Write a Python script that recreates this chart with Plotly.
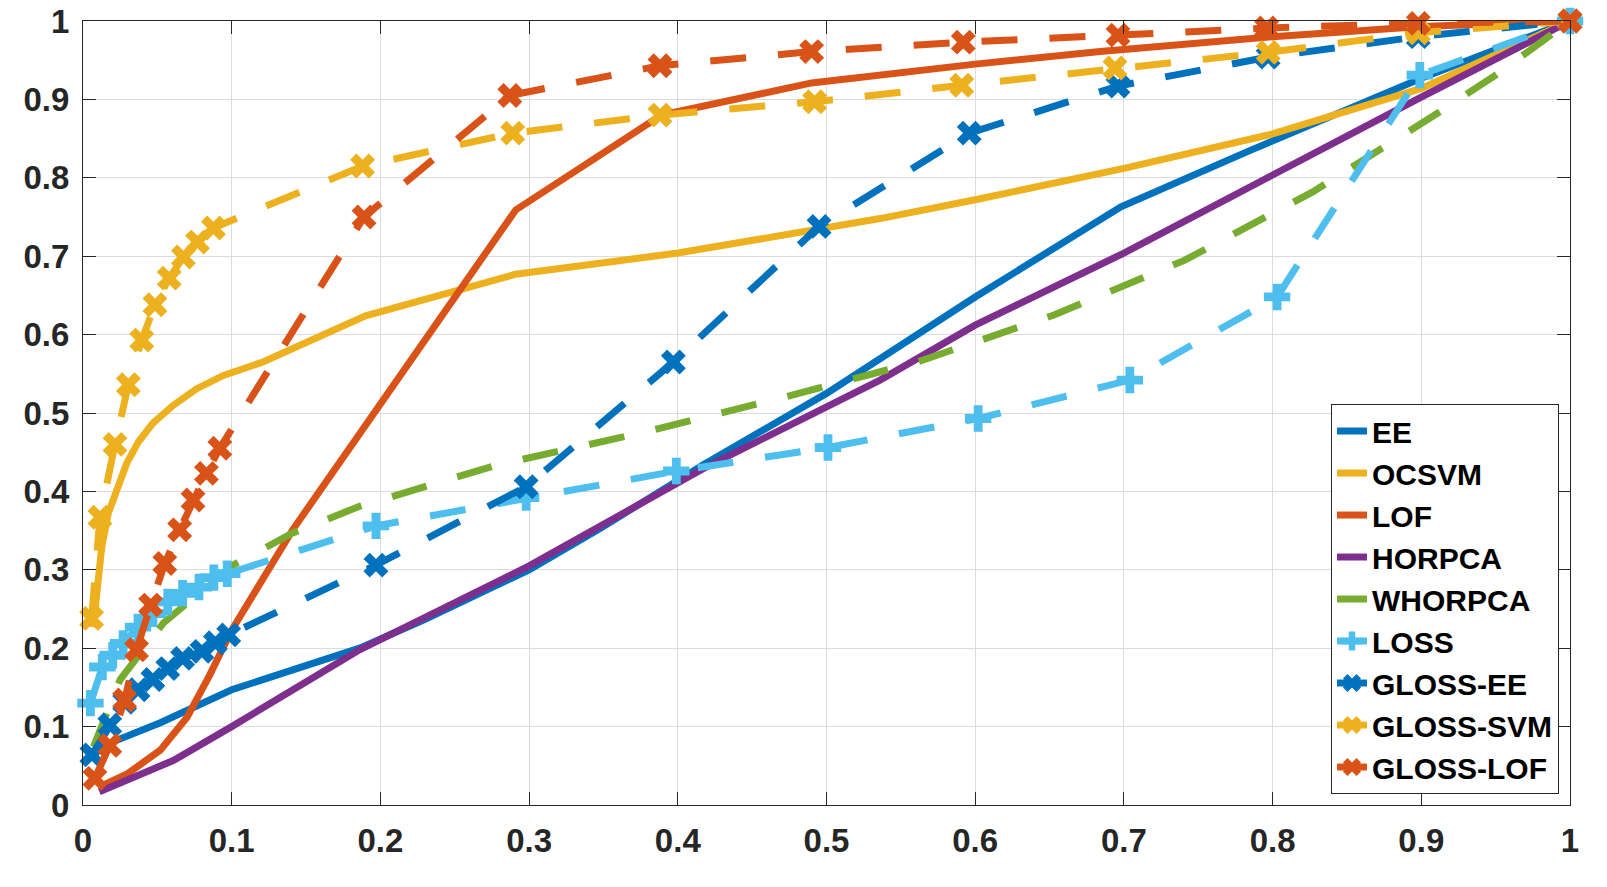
import plotly.graph_objects as go

# ROC curves (false positive rate vs. true positive rate)
ee_x = [0.001, 0.018, 0.052, 0.1, 0.186, 0.229, 0.3, 0.348, 0.418, 0.5, 0.6, 0.698, 0.785, 0.9, 1.0]
ee_y = [0.057, 0.079, 0.105, 0.147, 0.2, 0.236, 0.3, 0.353, 0.435, 0.525, 0.648, 0.763, 0.835, 0.927, 1.0]

ocsvm_x = [0.0069, 0.0092, 0.0126, 0.017, 0.0227, 0.0294, 0.0372, 0.047, 0.0608, 0.0765, 0.0944,
           0.121, 0.19, 0.291, 0.4, 0.536, 0.6, 0.7, 0.8, 0.9, 1.0]
ocsvm_y = [0.227, 0.27, 0.329, 0.372, 0.402, 0.436, 0.463, 0.487, 0.51, 0.531, 0.548,
           0.565, 0.624, 0.677, 0.704, 0.748, 0.772, 0.812, 0.856, 0.914, 1.0]

lof_x = [0.011, 0.03, 0.052, 0.07, 0.085, 0.1, 0.141, 0.291, 0.389, 0.49, 0.6, 0.684, 0.8, 0.9, 1.0]
lof_y = [0.023, 0.04, 0.07, 0.112, 0.165, 0.223, 0.351, 0.759, 0.88, 0.921, 0.945, 0.961, 0.98, 0.993, 1.0]

horpca_x = [0.011, 0.061, 0.1, 0.186, 0.3, 0.418, 0.536, 0.6, 0.7, 0.8, 0.9, 1.0]
horpca_y = [0.017, 0.057, 0.1, 0.198, 0.305, 0.43, 0.542, 0.612, 0.704, 0.804, 0.903, 1.0]

whorpca_x = [0.007, 0.025, 0.054, 0.1, 0.141, 0.186, 0.279, 0.374, 0.467, 0.561, 0.653, 0.741, 0.827, 0.869, 0.909, 0.95, 1.0]
whorpca_y = [0.074, 0.16, 0.232, 0.305, 0.347, 0.381, 0.434, 0.474, 0.518, 0.565, 0.625, 0.695, 0.782, 0.831, 0.88, 0.931, 1.0]

loss_x = [0.005, 0.013, 0.02, 0.027, 0.037, 0.047, 0.057, 0.067, 0.078, 0.088, 0.097,
          0.197, 0.298, 0.399, 0.501, 0.602, 0.704, 0.803, 0.899, 1.0]
loss_y = [0.13, 0.176, 0.191, 0.206, 0.227, 0.244, 0.259, 0.27, 0.278, 0.29, 0.295,
          0.356, 0.392, 0.426, 0.456, 0.493, 0.542, 0.648, 0.931, 1.0]

gee_x = [0.006, 0.018, 0.028, 0.037, 0.047, 0.057, 0.067, 0.08, 0.089, 0.098,
         0.197, 0.298, 0.397, 0.495, 0.596, 0.696, 0.797, 0.898, 1.0]
gee_y = [0.064, 0.102, 0.131, 0.147, 0.16, 0.174, 0.187, 0.196, 0.207, 0.217,
         0.306, 0.406, 0.565, 0.738, 0.857, 0.917, 0.954, 0.98, 1.0]

gsvm_x = [0.0058, 0.0114, 0.0215, 0.0305, 0.0395, 0.0484, 0.058, 0.0675, 0.077, 0.0877,
          0.188, 0.289, 0.388, 0.492, 0.591, 0.694, 0.797, 0.898, 1.0]
gsvm_y = [0.238, 0.367, 0.46, 0.536, 0.593, 0.638, 0.672, 0.699, 0.718, 0.736,
          0.815, 0.857, 0.88, 0.897, 0.918, 0.94, 0.96, 0.985, 1.0]

glof_x = [0.008, 0.018, 0.028, 0.036, 0.0455, 0.055, 0.065, 0.074, 0.083, 0.092,
          0.189, 0.287, 0.388, 0.49, 0.592, 0.696, 0.796, 0.898, 1.0]
glof_y = [0.034, 0.076, 0.134, 0.198, 0.255, 0.308, 0.351, 0.389, 0.423, 0.455,
          0.75, 0.905, 0.943, 0.961, 0.973, 0.982, 0.991, 0.997, 1.0]

tick_vals = [0, 0.1, 0.2, 0.3, 0.4, 0.5, 0.6, 0.7, 0.8, 0.9, 1]
tick_text = ['0', '0.1', '0.2', '0.3', '0.4', '0.5', '0.6', '0.7', '0.8', '0.9', '1']

BLUE = '#0072BD'
ORANGE = '#D95319'
YELLOW = '#EDB120'
PURPLE = '#7E2F8E'
GREEN = '#77AC30'
CYAN = '#4DBEEE'
LW = 7
DASH = '36px,32px'

series = [
    ('EE', ee_x, ee_y, BLUE, 'solid', None),
    ('OCSVM', ocsvm_x, ocsvm_y, YELLOW, 'solid', None),
    ('LOF', lof_x, lof_y, ORANGE, 'solid', None),
    ('HORPCA', horpca_x, horpca_y, PURPLE, 'solid', None),
    ('WHORPCA', whorpca_x, whorpca_y, GREEN, DASH, None),
    ('LOSS', loss_x, loss_y, CYAN, DASH, 'cross'),
    ('GLOSS-EE', gee_x, gee_y, BLUE, DASH, 'x'),
    ('GLOSS-SVM', gsvm_x, gsvm_y, YELLOW, DASH, 'x'),
    ('GLOSS-LOF', glof_x, glof_y, ORANGE, DASH, 'x'),
]

fig = go.Figure()
for name, xs, ys, col, dash, sym in series:
    if sym is None:
        fig.add_trace(go.Scatter(x=xs, y=ys, name=name, mode='lines',
                                 line=dict(color=col, width=LW, dash=dash),
                                 cliponaxis=False))
    else:
        fig.add_trace(go.Scatter(x=xs, y=ys, name=name, mode='lines+markers',
                                 line=dict(color=col, width=LW, dash=dash),
                                 marker=dict(symbol=sym, size=22, color=col),
                                 cliponaxis=False))

axis_style = dict(
    range=[0, 1], tickvals=tick_vals, ticktext=tick_text, automargin=False,
    showline=True, mirror='ticks', linecolor='#262626', linewidth=1,
    ticks='inside', ticklen=13, tickcolor='#262626', tickwidth=1,
    showgrid=True, gridcolor='#dcdcdc', gridwidth=1, zeroline=False,
    ticklabeloverflow='allow',
    tickfont=dict(family='Liberation Sans', size=33, color='#262626', weight='bold'),
)

fig.update_xaxes(**axis_style, ticklabelstandoff=6)
fig.update_yaxes(**axis_style, ticklabelstandoff=6)

fig.update_layout(
    width=1607, height=887,
    margin=dict(l=83, r=37, t=21, b=82),
    plot_bgcolor='white', paper_bgcolor='white',
    legend=dict(
        x=0.9926, y=0.014, xanchor='right', yanchor='bottom',
        bgcolor='white', bordercolor='#262626', borderwidth=1,
        font=dict(family='Liberation Sans', size=30, color='black', weight='bold'),
        tracegroupgap=0,
    ),
)

# drop the default 8px page margin so the figure fills the window exactly
fig.write_html('out.html', config={'displayModeBar': False},
               post_script="document.body.style.margin='0';document.body.style.overflow='hidden';")
